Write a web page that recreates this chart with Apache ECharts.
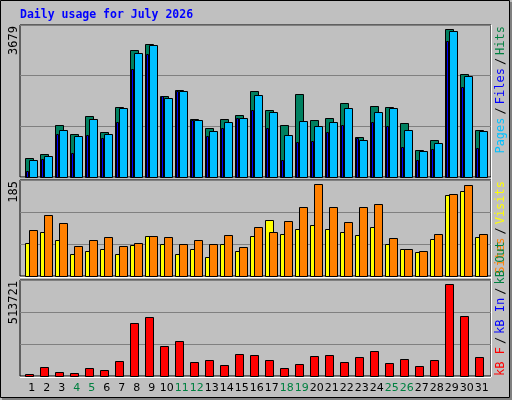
<!DOCTYPE html>
<html><head><meta charset="utf-8">
<script src="https://cdn.jsdelivr.net/npm/echarts@6/dist/echarts.min.js"></script>
<style>html,body{margin:0;padding:0;background:#c0c0c0}#c{width:512px;height:400px}</style>
</head><body><div id="c"></div>
<script>
const days = [1,2,3,4,5,6,7,8,9,10,11,12,13,14,15,16,17,18,19,20,21,22,23,24,25,26,27,28,29,30,31];
const weekendDays = [4,5,11,12,18,19,25,26];
const hits  = [469,566,1269,1051,1488,1100,1706,3065,3210,1949,2094,1415,1197,1415,1512,2070,1633,1269,1997,1391,1439,1779,978,1730,1706,1318,663,906,3574,2482,1148];
const pages = [420,518,1148,1003,1415,1051,1658,2992,3186,1924,2070,1391,1124,1342,1439,1973,1585,1027,1367,1245,1342,1682,906,1585,1658,1148,639,833,3525,2434,1124];
const files = [137,445,1051,590,1027,954,1342,2604,2968,1949,2070,1391,1003,1197,1439,1633,1197,420,857,881,1100,1269,954,1342,1245,736,420,687,3283,2167,712];
const visits = [64,85,69,42,48,52,42,60,77,62,42,52,37,62,48,77,108,81,91,98,91,85,79,94,62,52,46,71,156,164,75];
const sites  = [89,118,102,58,69,75,58,64,77,75,62,69,62,79,56,94,85,106,133,177,133,104,133,139,73,52,48,81,158,175,81];
const kbytes = [12572,50288,23348,17960,44900,34124,82616,281972,314300,158048,184988,77228,88004,61064,120332,114944,88004,44900,66452,109556,114944,77228,104168,131108,71840,93392,55676,88004,492104,319688,104168];
const yMax = [3679,185,513721];
const title = 'Daily usage for July 2026';

const chart = echarts.init(document.getElementById('c'));
const X0 = 2/3, XU = 471/15;
function bar(off, w, fill, strokeW){
  return function(params, api){
    const p = api.coord([api.value(0), api.value(1)]);
    const b = api.coord([api.value(0), 0]);
    const u = api.size([1,0])[0];
    return {type:'rect', shape:{x:Math.round(p[0]+off*u)+0.5, y:Math.round(p[1])+0.5, width:w*u, height:b[1]-Math.round(p[1])},
      style:{fill:fill, stroke:'#000', lineWidth:strokeW}};
  };
}
function pairs(arr){ return days.map((d,i)=>[d,arr[i]]); }
const grids = [{left:20,top:25,width:471,height:152},{left:20,top:180,width:471,height:96},{left:20,top:280,width:471,height:96}];
const mono = '"DejaVu Sans Mono", monospace';
chart.setOption({
  animation:false,
  backgroundColor:'#c0c0c0',
  grid: grids.map(g=>Object.assign({show:true,borderColor:'#000',borderWidth:1,backgroundColor:'#c0c0c0'},g)),
  xAxis: [0,1,2].map(i=>({type:'value',gridIndex:i,min:X0,max:X0+XU,show:false})),
  yAxis: yMax.map((m,i)=>({type:'value',gridIndex:i,min:0,max:m,interval:m/3,axisLabel:{show:false},axisLine:{show:false},axisTick:{show:false},splitLine:{lineStyle:{color:'#808080',width:1}}})),
  series:[
    {type:'custom',xAxisIndex:0,yAxisIndex:0,data:pairs(hits),renderItem:bar(0,8/15,'#008060',1)},
    {type:'custom',xAxisIndex:0,yAxisIndex:0,data:pairs(files),renderItem:bar(1/15,2/15,'#0000ff',1)},
    {type:'custom',xAxisIndex:0,yAxisIndex:0,data:pairs(pages),renderItem:bar(4/15,8/15,'#00c0ff',1)},
    {type:'custom',xAxisIndex:1,yAxisIndex:1,data:pairs(visits),renderItem:bar(0,8/15,'#ffff00',1)},
    {type:'custom',xAxisIndex:1,yAxisIndex:1,data:pairs(sites),renderItem:bar(4/15,8/15,'#ff8000',1)},
    {type:'custom',xAxisIndex:2,yAxisIndex:2,data:pairs(kbytes),renderItem:bar(0,8/15,'#ff0000',1)},
    {type:'custom',xAxisIndex:2,yAxisIndex:2,data:days.map(d=>[d,0]),clip:false,
      renderItem:function(params,api){
        const d=api.value(0); const p=api.coord([d,0]); const u=api.size([1,0])[0];
        return {type:'text',x:p[0]+0.45*u,y:p[1]+12,style:{text:String(d),align:'center',verticalAlign:'middle',
          fill:weekendDays.includes(d)?'#008040':'#000',font:'11px "DejaVu Sans", sans-serif'}};
      }}
  ],
  graphic:[
    {type:'rect',shape:{x:0.5,y:0.5,width:509,height:397},style:{fill:'none',stroke:'#000',lineWidth:1},z:-1},
    {type:'rect',shape:{x:510,y:2,width:2,height:398},style:{fill:'#808080'}},
    {type:'rect',shape:{x:2,y:398,width:510,height:2},style:{fill:'#808080'}},
    {type:'line',shape:{x1:20,y1:177.5,x2:491,y2:177.5},style:{stroke:'#fff',lineWidth:1}},
    {type:'line',shape:{x1:20,y1:277.5,x2:491,y2:277.5},style:{stroke:'#fff',lineWidth:1}},
    {type:'line',shape:{x1:20,y1:377.5,x2:491,y2:377.5},style:{stroke:'#fff',lineWidth:1}},
    {type:'line',shape:{x1:491.5,y1:25,x2:491.5,y2:377},style:{stroke:'#fff',lineWidth:1}},
    {type:'text',x:20,y:15,style:{text:title,fill:'#0000ff',font:'bold 11.5px '+mono,verticalAlign:'middle'}},
    {type:'text',x:14,y:26,rotation:Math.PI/2,style:{text:String(yMax[0]),fill:'#000',font:'12px '+mono,align:'right',verticalAlign:'middle'}},
    {type:'text',x:14,y:181,rotation:Math.PI/2,style:{text:String(yMax[1]),fill:'#000',font:'12px '+mono,align:'right',verticalAlign:'middle'}},
    {type:'text',x:14,y:281,rotation:Math.PI/2,style:{text:String(yMax[2]),fill:'#000',font:'12px '+mono,align:'right',verticalAlign:'middle'}},
    {type:'text',x:501,y:26,rotation:Math.PI/2,style:{text:'{a|Pages}{s|/}{b|Files}{s|/}{c|Hits}',align:'right',verticalAlign:'middle',font:'12px '+mono,
      rich:{a:{fill:'#00c0ff',font:'12px '+mono},b:{fill:'#0000ff',font:'12px '+mono},c:{fill:'#008040',font:'12px '+mono},s:{fill:'#000',font:'12px '+mono,padding:[0,3]}}}},
    {type:'text',x:501,y:181,rotation:Math.PI/2,style:{text:'{a|Sites}{s|/}{b|Visits}',align:'right',verticalAlign:'middle',font:'12px '+mono,
      rich:{a:{fill:'#ff8000',font:'12px '+mono},b:{fill:'#ffff00',font:'12px '+mono},s:{fill:'#000',font:'12px '+mono,padding:[0,3]}}}},
    {type:'text',x:501,y:376,rotation:Math.PI/2,style:{text:'{a|kB F}{s|/}{b|kB In}{s|/}{c|kB Out}',align:'left',verticalAlign:'middle',font:'12px '+mono,
      rich:{a:{fill:'#ff0000',font:'12px '+mono},b:{fill:'#0000ff',font:'12px '+mono},c:{fill:'#008040',font:'12px '+mono},s:{fill:'#000',font:'12px '+mono,padding:[0,3]}}}}
  ]
});
</script></body></html>
